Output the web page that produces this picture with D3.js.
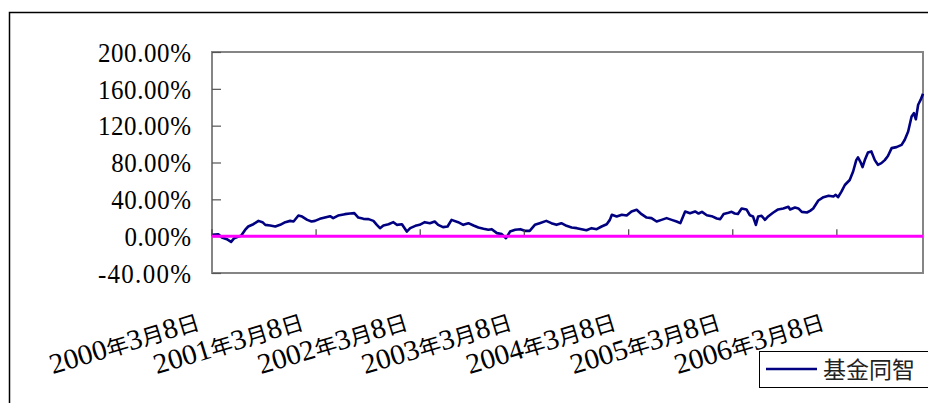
<!DOCTYPE html>
<html>
<head>
<meta charset="utf-8">
<script src="https://cdn.jsdelivr.net/npm/d3@7"></script>
<style>
  body { margin: 0; background: #fff; }
  svg { display: block; }
</style>
</head>
<body>
<div id="chart"></div>
<script>
// cumulative return of the fund (%)
const dates = [
  "2000-03-08","2000-03-30","2000-04-12","2000-04-29","2000-05-14","2000-05-25","2000-06-09","2000-06-18",
  "2000-07-02","2000-07-13","2000-07-31","2000-08-18","2000-09-01","2000-09-11","2000-09-28","2000-10-16",
  "2000-11-02","2000-11-20","2000-12-07","2000-12-19","2001-01-05","2001-01-18","2001-02-05","2001-02-20",
  "2001-03-04","2001-03-21","2001-04-08","2001-04-26","2001-05-07","2001-05-24","2001-06-17","2001-07-05",
  "2001-07-20","2001-08-03","2001-08-21","2001-09-08","2001-09-25","2001-10-07","2001-10-18","2001-10-30",
  "2001-11-17","2001-12-04","2001-12-16","2002-01-03","2002-01-20","2002-02-01","2002-02-19","2002-03-06",
  "2002-03-24","2002-04-11","2002-04-28","2002-05-10","2002-05-27","2002-06-12","2002-06-26","2002-07-19",
  "2002-08-06","2002-08-24","2002-09-11","2002-09-28","2002-10-16","2002-11-02","2002-11-14","2002-12-02",
  "2002-12-19","2003-01-03","2003-01-17","2003-02-04","2003-02-22","2003-03-10","2003-03-27","2003-04-14",
  "2003-05-01","2003-05-24","2003-06-11","2003-06-29","2003-07-16","2003-08-03","2003-08-21","2003-09-08",
  "2003-09-25","2003-10-12","2003-10-30","2003-11-17","2003-12-04","2003-12-22","2004-01-02","2004-01-09",
  "2004-01-26","2004-02-13","2004-03-01","2004-03-18","2004-04-05","2004-04-22","2004-05-10","2004-05-27",
  "2004-06-14","2004-07-01","2004-07-19","2004-08-06","2004-08-23","2004-09-05","2004-09-22","2004-10-09",
  "2004-10-27","2004-11-08","2004-11-20","2004-12-07","2004-12-24","2005-01-11","2005-01-23","2005-02-04",
  "2005-02-21","2005-03-04","2005-03-15","2005-03-26","2005-04-08","2005-04-25","2005-05-07","2005-05-18",
  "2005-05-28","2005-06-05","2005-06-17","2005-06-29","2005-07-10","2005-07-27","2005-08-14","2005-09-01",
  "2005-09-19","2005-09-25","2005-10-12","2005-10-24","2005-11-05","2005-11-23","2005-12-04","2005-12-15",
  "2006-01-02","2006-01-20","2006-02-07","2006-02-24","2006-03-04","2006-03-12","2006-03-24","2006-04-05",
  "2006-04-22","2006-05-04","2006-05-15","2006-05-21","2006-05-29","2006-06-06","2006-06-14","2006-06-25",
  "2006-07-07","2006-07-19","2006-07-30","2006-08-11","2006-08-23","2006-09-03","2006-09-16","2006-10-03",
  "2006-10-21","2006-11-01","2006-11-13","2006-11-25","2006-12-03","2006-12-10","2006-12-18","2006-12-27",
  "2007-01-04"
];
const fundValues = [
  1.5, 2.0, -1.5, -3.3, -6.2, -2.2, -0.4, 0.5,
  6.8, 10.5, 13.0, 16.6, 15.2, 12.3, 11.6, 10.5,
  12.3, 15.2, 16.6, 15.9, 22.4, 21.3, 17.7, 15.9,
  16.6, 18.8, 20.2, 21.7, 19.6, 22.4, 23.9, 24.6,
  25.0, 20.2, 18.8, 18.5, 16.6, 12.3, 8.7, 11.6,
  13.0, 15.2, 12.3, 13.0, 5.0, 8.7, 11.2, 12.3,
  15.2, 14.1, 15.9, 12.3, 9.8, 10.5, 17.7, 15.2,
  12.3, 14.1, 11.6, 9.4, 8.0, 6.9, 7.6, 3.3,
  2.2, -2.2, 5.0, 6.9, 7.6, 5.8, 5.8, 12.3,
  14.1, 16.6, 14.1, 12.3, 14.1, 11.2, 9.4, 8.7,
  7.6, 6.5, 8.7, 7.6, 10.5, 13.0, 17.7, 23.2,
  21.3, 23.2, 22.4, 26.8, 28.6, 23.9, 20.2, 19.6,
  15.9, 17.7, 19.6, 17.7, 15.9, 14.1, 26.8, 25.0,
  26.8, 24.6, 26.4, 22.7, 21.7, 19.2, 18.5, 24.0,
  25.4, 26.4, 24.6, 24.0, 30.1, 29.0, 22.7, 21.4,
  12.2, 21.4, 22.1, 17.8, 21.4, 25.4, 29.0, 30.1,
  31.9, 29.0, 31.2, 30.1, 26.4, 25.7, 27.5, 30.1,
  38.7, 42.3, 43.8, 43.0, 44.9, 42.3, 48.3, 55.6,
  61.0, 70.2, 82.6, 85.6, 81.0, 75.0, 82.6, 90.9,
  92.0, 82.6, 77.5, 79.3, 82.6, 87.0, 95.6, 96.7,
  99.2, 104.7, 113.7, 130.0, 133.6, 127.0, 142.7, 148.2,
  154.7
];
const seriesName = "基金同智";
const tickDates = ["2000-03-08","2001-03-08","2002-03-08","2003-03-08","2004-03-08","2005-03-08","2006-03-08"];
const tickLabels = ["2000年3月8日","2001年3月8日","2002年3月8日","2003年3月8日","2004年3月8日","2005年3月8日","2006年3月8日"];
const yTicks = [-40, 0, 40, 80, 120, 160, 200];

const width = 928,
      height = 403,
      plot = ({ left: 212, right: 923, top: 52, bottom: 273 });

const parse = d3.timeParse("%Y-%m-%d");
const data = dates.map((d, i) => ({ date: parse(d), value: fundValues[i] }));

const svg = d3.select("#chart")
    .append("svg")
    .attr("width", width)
    .attr("height", height);

let x = d3.scaleTime()
    .domain(d3.extent(data, d => d.date))
    .range([plot.left, plot.right]);

let y = d3.scaleLinear()
    .domain([-40, 200])
    .range([plot.bottom, plot.top]);

// outer chart frame (runs off the right and bottom edges)
svg.append("rect")
    .attr("x", 9.5).attr("y", 12.5)
    .attr("width", 940).attr("height", 420)
    .attr("fill", "none")
    .attr("stroke", "#000")
    .attr("stroke-width", 1.5);

// plot area border
svg.append("rect")
    .attr("x", plot.left).attr("y", plot.top)
    .attr("width", plot.right - plot.left)
    .attr("height", plot.bottom - plot.top)
    .attr("fill", "none")
    .attr("stroke", "#858585")
    .attr("stroke-width", 2);

// y axis, ticks point inwards
let yAxis = d3.axisRight(y)
    .tickValues(yTicks)
    .tickSize(9)
    .tickFormat("");

svg.append("g")
    .attr("transform", `translate(${plot.left},0)`)
    .call(yAxis)
    .call(g => g.select(".domain").remove())
    .call(g => g.selectAll("line").attr("stroke", "#555").attr("stroke-width", 1.2));

// labels are monospaced in the original (~13.3px per character)
svg.append("g")
    .selectAll("text")
    .data(yTicks)
    .join("text")
    .attr("transform", d => `translate(191,${y(d)}) scale(1,1.12)`)
    .attr("dy", "0.35em")
    .attr("text-anchor", "end")
    .attr("font-family", "'Liberation Serif', 'DejaVu Serif', serif")
    .attr("font-size", 25)
    .attr("textLength", d => (d.toFixed(2) + "%").length * 13.3)
    .attr("fill", "#000")
    .text(d => d.toFixed(2) + "%");

// fund line
const line = d3.line()
    .x(d => x(d.date))
    .y(d => y(d.value));

svg.append("path")
    .datum(data)
    .attr("fill", "none")
    .attr("stroke", "#000080")
    .attr("stroke-width", 2.6)
    .attr("stroke-linejoin", "round")
    .attr("d", line);

// x axis ticks sit on the zero line, pointing up
svg.append("g")
    .selectAll("line")
    .data(tickDates.map(parse))
    .join("line")
    .attr("x1", d => x(d)).attr("x2", d => x(d))
    .attr("y1", y(0) - 7).attr("y2", y(0))
    .attr("stroke", "#444")
    .attr("stroke-width", 1.2);

// zero line in magenta
svg.append("line")
    .attr("x1", plot.left).attr("x2", plot.right)
    .attr("y1", y(0)).attr("y2", y(0))
    .attr("stroke", "#ff00ff")
    .attr("stroke-width", 3);

// slanted date labels: digits in a serif face, the CJK characters a little smaller
let dateLabel = svg.append("g")
    .selectAll("text")
    .data(tickDates)
    .join("text")
    .attr("transform", d => `translate(${x(parse(d)) - 11},329) rotate(-17) scale(1,1.14)`)
    .attr("text-anchor", "end")
    .attr("textLength", 155)
    .attr("lengthAdjust", "spacingAndGlyphs")
    .attr("fill", "#000");

dateLabel.selectAll("tspan")
    .data((d, i) => tickLabels[i].split(/(\d+)/).filter(s => s !== ""))
    .join("tspan")
    .attr("font-family", s => /\d/.test(s) ? "'Liberation Serif', serif" : "'Noto Sans CJK SC', sans-serif")
    .attr("font-size", s => /\d/.test(s) ? 25 : 19)
    .text(s => s);

// legend
let legend = svg.append("g");

legend.append("rect")
    .attr("x", 759.5).attr("y", 351.5)
    .attr("width", 200).attr("height", 36)
    .attr("fill", "#fff")
    .attr("stroke", "#000")
    .attr("stroke-width", 1);

legend.append("line")
    .attr("x1", 766).attr("x2", 817)
    .attr("y1", 369).attr("y2", 369)
    .attr("stroke", "#000080")
    .attr("stroke-width", 2.6);

legend.append("text")
    .attr("x", 823)
    .attr("y", 370)
    .attr("dy", "0.35em")
    .attr("font-family", "'Noto Sans CJK SC', sans-serif")
    .attr("font-size", 23)
    .attr("fill", "#222")
    .text(seriesName);
</script>
</body>
</html>
